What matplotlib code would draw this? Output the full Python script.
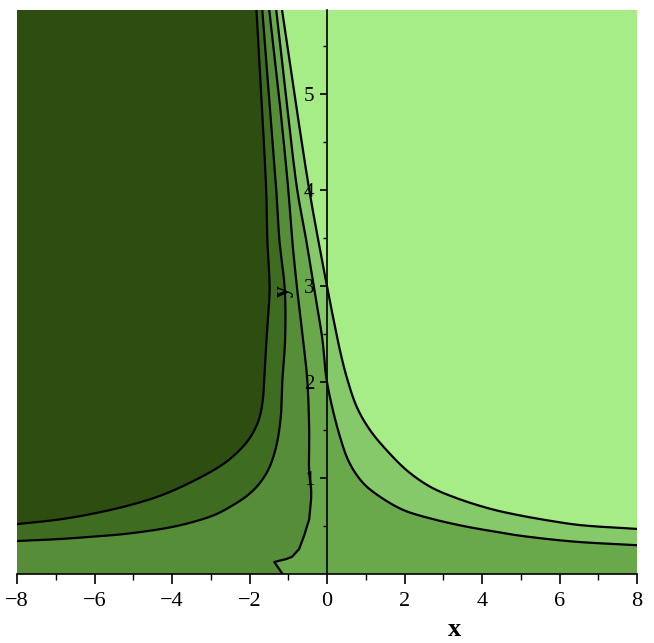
import matplotlib
matplotlib.use("Agg")
import matplotlib.pyplot as plt
import numpy as np

# contour line 1 (darkest boundary)
c1_x = [-1.82, -1.69, -1.57, -1.54, -1.48, -1.52, -1.56, -1.62, -1.66, -1.75, -1.90, -2.12, -2.63, -3.47, -4.31, -5.16, -6.03, -6.88, -8.0]
c1_y = [5.88, 4.95, 4.01, 3.49, 2.97, 2.70, 2.45, 2.03, 1.80, 1.62, 1.48, 1.35, 1.16, 0.965, 0.815, 0.71, 0.63, 0.57, 0.52]
# contour line 2
c2_x = [-1.67, -1.49, -1.31, -1.23, -1.09, -1.08, -1.15, -1.19, -1.31, -1.50, -1.75, -2.05, -2.50, -2.94, -3.88, -5.16, -6.03, -6.88, -8.0]
c2_y = [5.88, 4.95, 4.01, 3.49, 2.97, 2.45, 2.03, 1.65, 1.33, 1.10, 0.94, 0.82, 0.70, 0.61, 0.50, 0.42, 0.39, 0.365, 0.344]
# contour line 3 (nearly vertical, ragged foot)
c3_x = [-1.49, -1.23, -1.0, -0.90, -0.77, -0.62, -0.51, -0.46, -0.46, -0.41, -0.41, -0.46, -0.59, -0.72, -0.90, -1.05, -1.36, -1.18, -1.15]
c3_y = [5.88, 4.95, 4.01, 3.49, 2.97, 2.45, 2.03, 1.51, 1.06, 0.885, 0.78, 0.57, 0.40, 0.26, 0.18, 0.156, 0.125, 0.02, 0.0]
# contour line 4
c4_x = [-1.31, -1.05, -0.77, -0.54, -0.33, -0.12, 0.0, 0.335, 0.59, 0.94, 1.37, 1.97, 2.66, 3.52, 4.21, 4.80, 5.68, 6.53, 8.0]
c4_y = [5.88, 4.95, 4.01, 3.49, 2.97, 2.45, 2.0, 1.43, 1.15, 0.945, 0.805, 0.667, 0.58, 0.50, 0.45, 0.41, 0.365, 0.333, 0.30]
# contour line 5
c5_x = [-1.16, -0.82, -0.46, -0.23, 0.0, 0.155, 0.335, 0.51, 0.77, 1.11, 1.54, 2.06, 2.66, 3.35, 4.21, 4.80, 5.68, 6.53, 8.0]
c5_y = [5.88, 4.95, 4.01, 3.49, 3.0, 2.68, 2.33, 2.05, 1.74, 1.50, 1.29, 1.08, 0.91, 0.79, 0.68, 0.625, 0.56, 0.51, 0.47]

level_colors = ["#2d4e10", "#3e6d22", "#558d39", "#6aa84c", "#86c96b", "#a6ec87"]

x_ticks = [-8, -6, -4, -2, 0, 2, 4, 6, 8]
y_ticks = [1, 2, 3, 4, 5]

XMIN, XMAX, YMIN, YMAX = -8, 8, 0, 5.88

fig = plt.figure(figsize=(6.54, 6.43), dpi=100)
ax = fig.add_axes([17/654, 69/643, 620/654, 564/643])
ax.set_xlim(XMIN, XMAX)
ax.set_ylim(YMIN, YMAX)


def smooth(xs, ys, n=20):
    """Centripetal Catmull-Rom through the read points, in pixel-like scale."""
    sx, sy = 38.75, 96.0
    P = np.column_stack([np.array(xs) * sx, np.array(ys) * sy])
    if len(P) < 3:
        return list(xs), list(ys)
    P = np.vstack([2 * P[0] - P[1], P, 2 * P[-1] - P[-2]])
    out = [P[1]]
    for i in range(1, len(P) - 2):
        p0, p1, p2, p3 = P[i - 1], P[i], P[i + 1], P[i + 2]
        def tj(ti, a, b):
            return ti + max(np.hypot(*(b - a)), 1e-6) ** 0.5
        t0 = 0.0
        t1 = tj(t0, p0, p1)
        t2 = tj(t1, p1, p2)
        t3 = tj(t2, p2, p3)
        for t in np.linspace(t1, t2, n)[1:]:
            A1 = (t1 - t) / (t1 - t0) * p0 + (t - t0) / (t1 - t0) * p1
            A2 = (t2 - t) / (t2 - t1) * p1 + (t - t1) / (t2 - t1) * p2
            A3 = (t3 - t) / (t3 - t2) * p2 + (t - t2) / (t3 - t2) * p3
            B1 = (t2 - t) / (t2 - t0) * A1 + (t - t0) / (t2 - t0) * A2
            B2 = (t3 - t) / (t3 - t1) * A2 + (t - t1) / (t3 - t1) * A3
            C = (t2 - t) / (t2 - t1) * B1 + (t - t1) / (t2 - t1) * B2
            out.append(C)
    out = np.array(out)
    return list(out[:, 0] / sx), list(out[:, 1] / sy)


s1 = smooth(c1_x, c1_y)
s2 = smooth(c2_x, c2_y)
k = 11  # smooth the upper part of line 3, keep its ragged foot
u3 = smooth(c3_x[:k], c3_y[:k])
s3 = (u3[0] + c3_x[k:], u3[1] + c3_y[k:])
s4 = smooth(c4_x, c4_y)
s5 = smooth(c5_x, c5_y)

# background (lightest)
ax.fill([XMIN, XMAX, XMAX, XMIN], [YMIN, YMIN, YMAX, YMAX], color=level_colors[5], lw=0, zorder=0)


def region_right(cx, cy, col):
    xs = list(cx) + [XMAX, XMIN, XMIN]
    ys = list(cy) + [YMIN, YMIN, YMAX]
    ax.fill(xs, ys, color=col, lw=0, zorder=1)


def region_left(cx, cy, col):
    if cy[-1] <= 0.001:
        xs = list(cx) + [XMIN, XMIN]
        ys = list(cy) + [YMIN, YMAX]
    else:
        xs = list(cx) + [XMIN]
        ys = list(cy) + [YMAX]
    ax.fill(xs, ys, color=col, lw=0, zorder=1)


region_right(*s5, level_colors[4])
region_right(*s4, level_colors[3])
region_left(*s3, level_colors[2])
region_left(*s2, level_colors[1])
region_left(*s1, level_colors[0])

for cx, cy in [s1, s2, s3, s4, s5]:
    ax.plot(cx, cy, color="black", lw=1.6, zorder=3, solid_joinstyle="round")

# axes
for s in ["top", "right"]:
    ax.spines[s].set_visible(False)
ax.spines["left"].set_position(("data", 0))
ax.spines["left"].set_linewidth(1.2)
ax.spines["bottom"].set_linewidth(1.2)
ax.spines["left"].set_zorder(4)
ax.spines["bottom"].set_zorder(4)

serif = ["Liberation Serif", "DejaVu Serif"]
ax.set_xticks(x_ticks)
ax.set_xticklabels([str(v).replace("-", "\u2212") for v in x_ticks], fontfamily=serif, fontsize=16)
ax.set_xticks(np.arange(-7, 8, 2), minor=True)
ax.set_yticks(y_ticks)
ax.set_yticklabels([str(v) for v in y_ticks], fontfamily=serif, fontsize=15)
ax.set_yticks(np.arange(0.5, 5.9, 1.0), minor=True)
ax.tick_params(axis="x", which="major", direction="out", length=7, width=1.2, pad=6)
ax.tick_params(axis="x", which="minor", direction="out", length=4, width=1.0)
ax.tick_params(axis="y", which="major", direction="out", length=5, width=1.2, pad=4)
ax.tick_params(axis="y", which="minor", direction="out", length=3, width=1.0)

ax.text(3.3, -0.58, "x", fontfamily=serif, fontsize=19, fontweight="bold",
        ha="center", va="center", clip_on=False)
ax.text(-1.12, 2.95, "y", fontfamily=serif, fontsize=17, fontweight="bold",
        ha="center", va="center", rotation=90, zorder=5)

fig.savefig("out.png", dpi=100)
